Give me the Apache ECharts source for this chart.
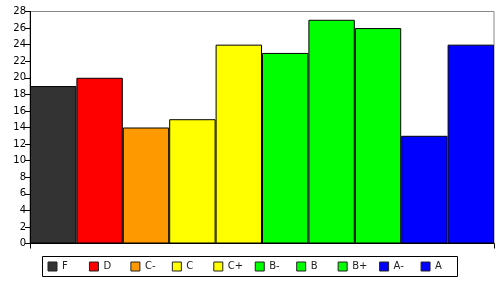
<!DOCTYPE html>
<html>
<head>
<meta charset="utf-8">
<script src="https://cdn.jsdelivr.net/npm/echarts@6/dist/echarts.min.js"></script>
<style>html,body{margin:0;padding:0;background:#fff}#c{width:500px;height:283px}</style>
</head>
<body>
<div id="c"></div>
<script>
const categories = ['F', 'D', 'C-', 'C', 'C+', 'B-', 'B', 'B+', 'A-', 'A'];
const values = [19, 20, 14, 15, 24, 23, 27, 26, 13, 24];
const colors = ['#333333', '#ff0000', '#ff9900', '#ffff00', '#ffff00', '#00ff00', '#00ff00', '#00ff00', '#0000ff', '#0000ff'];
const yTicks = { min: 0, max: 28, interval: 2 };

const series = categories.map((name, i) => ({
  name: name,
  type: 'bar',
  stack: 'all',
  barCategoryGap: '0%',
  data: categories.map((_, j) => (j === i ? values[i] : '-')),
  itemStyle: { color: colors[i], borderColor: '#000', borderWidth: 1 },
  emphasis: { disabled: true },
  animation: false
}));

const legends = categories.map((name, i) => ({
  data: [name],
  left: 47.5 + i * 41.45,
  top: 261.5,
  padding: 0,
  itemWidth: 9,
  itemHeight: 9,
  itemTextGap: 6,
  icon: 'rect',
  itemStyle: { borderColor: '#222', borderWidth: 1 },
  textStyle: { fontSize: 10, color: '#222', fontFamily: 'DejaVu Sans' },
  selectedMode: false
}));

const chart = echarts.init(document.getElementById('c'), null, { renderer: 'canvas' });
chart.setOption({
  animation: false,
  textStyle: { fontFamily: 'DejaVu Sans' },
  grid: { left: 30, right: 6, top: 11.5, bottom: 39.5, show: true, borderColor: '#888', borderWidth: 1, backgroundColor: 'transparent' },
  legend: legends,
  graphic: [{
    type: 'rect',
    shape: { x: 42.5, y: 256.5, width: 415, height: 20 },
    style: { fill: 'none', stroke: '#000', lineWidth: 1 },
    silent: true
  }],
  xAxis: {
    type: 'category',
    data: categories,
    axisLine: { lineStyle: { color: '#000', width: 1 } },
    axisTick: { show: true, length: 5, interval: (idx) => idx === 0, lineStyle: { color: '#000' } },
    axisLabel: { show: false },
    splitLine: { show: false }
  },
  yAxis: {
    type: 'value',
    min: yTicks.min,
    max: yTicks.max,
    interval: yTicks.interval,
    axisLine: { show: true, lineStyle: { color: '#000', width: 1 } },
    axisTick: { show: true, length: 5, lineStyle: { color: '#000' } },
    axisLabel: { fontSize: 10, color: '#000', margin: 4, fontFamily: 'DejaVu Sans' },
    splitLine: { show: false }
  },
  series: series
});
</script>
</body>
</html>
